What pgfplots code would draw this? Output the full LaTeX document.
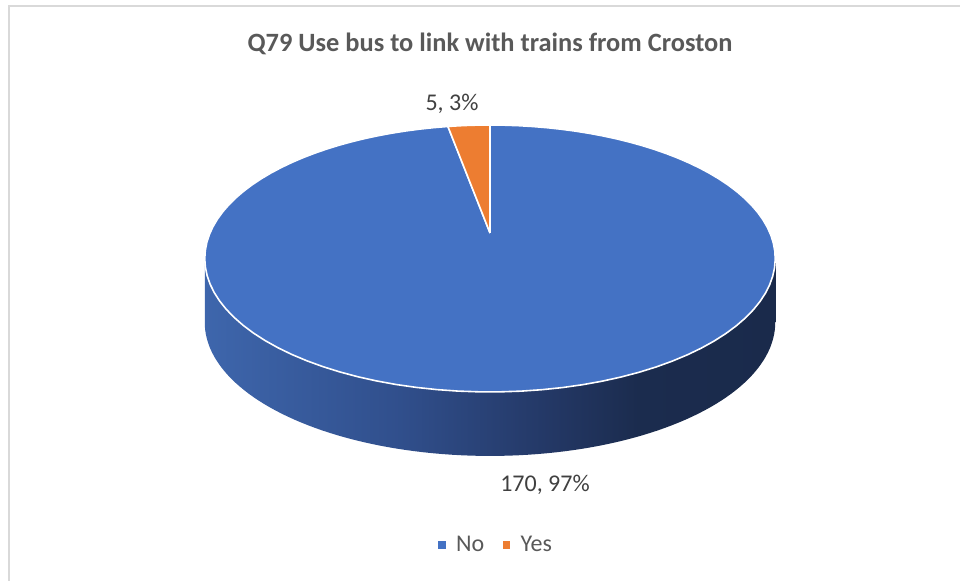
\documentclass[border=0pt]{standalone}
\usepackage{fontspec}
\setmainfont{Carlito}
\usepackage{pgfplots}
\usepackage{pgfplotstable}
\pgfplotsset{compat=1.18}
\definecolor{pieblue}{RGB}{68,114,196}
\definecolor{pieorange}{RGB}{237,125,49}
\definecolor{titlegray}{RGB}{89,89,89}
\definecolor{labelgray}{RGB}{64,64,64}
\definecolor{bordergray}{RGB}{217,217,217}
\pgfdeclarehorizontalshading{sideshade}{100bp}{rgb(0bp)=(0.243,0.40,0.675); rgb(25bp)=(0.243,0.40,0.675); rgb(42bp)=(0.19,0.31,0.55); rgb(55bp)=(0.14,0.22,0.40); rgb(63bp)=(0.106,0.172,0.306); rgb(75bp)=(0.102,0.165,0.294); rgb(100bp)=(0.102,0.165,0.294)}

\pgfplotstableread{
label value
No 170
Yes 5
}\piedata

\begin{document}
\begin{tikzpicture}
\pgfplotstablegetelem{0}{value}\of\piedata \let\vNo\pgfplotsretval
\pgfplotstablegetelem{1}{value}\of\piedata \let\vYes\pgfplotsretval
\pgfmathsetmacro{\aYes}{90+360*\vYes/(\vNo+\vYes)}
\begin{axis}[
  width=480pt, height=290.5pt, scale only axis, hide axis,
  xmin=0, xmax=960, ymin=0, ymax=581, clip=false,
  declare function={
    px(\q)=490+280*cos(\q)/(1+0.191*sin(\q));
    py(\q)=348+128.6*sin(\q)/(1+0.191*sin(\q));
    th(\t,\a,\b)=\a+(\b-\a)*min(max(\t,0),100)/100;
    rr(\t)=ifthenelse(\t<0,0,ifthenelse(\t>100,0,1));
    sth(\t)=ifthenelse(\t<100.5,191.01+157.98*\t/100,348.99-157.98*(\t-101)/100);
    sdy(\t)=ifthenelse(\t<100.5,0,64);
  },
  legend style={at={(0.518,0.062)}, anchor=center, draw=none, fill=none,
    legend columns=2, font=\fontsize{12}{14}\selectfont, text=titlegray,
    /tikz/every odd column/.append style={column sep=3.5pt},
    /tikz/every even column/.append style={column sep=7.5pt}},
]
% chart border (left and top)
\draw[bordergray, line width=1pt] (axis cs:9,0) -- (axis cs:9,575) -- (axis cs:960,575);
% side of the pie
\addplot[forget plot, mark=none, draw=none, shade, shading=sideshade, samples at={0,1,...,201}]
  ({px(sth(x))},{py(sth(x))-sdy(x)});
% No slice
\addplot[forget plot, mark=none, fill=pieblue, draw=white, line width=0.8pt, line join=round, samples at={-1,0,1,...,101}]
  ({490+rr(x)*(px(th(x,\aYes,450))-490)},{348+rr(x)*(py(th(x,\aYes,450))-348)});
% Yes slice
\addplot[forget plot, mark=none, fill=pieorange, draw=white, line width=0.8pt, line join=round, samples at={-1,0,1,...,101}]
  ({490+rr(x)*(px(th(x,90,\aYes))-490)},{348+rr(x)*(py(th(x,90,\aYes))-348)});
\addlegendimage{only marks, mark=square*, mark size=1.6pt, pieblue, draw=pieblue}
\addlegendentry{No}
\addlegendimage{only marks, mark=square*, mark size=1.6pt, pieorange, draw=pieorange}
\addlegendentry{Yes}
% title and data labels
\node[anchor=base, text=titlegray, font=\fontsize{13.2}{16}\selectfont\bfseries] at (axis cs:490,529) {Q79 Use bus to link with trains from Croston};
\node[anchor=center, text=labelgray, font=\fontsize{12}{14}\selectfont] at (axis cs:452,477) {5, 3\%};
\node[anchor=center, text=labelgray, font=\fontsize{12}{14}\selectfont] at (axis cs:545,96) {170, 97\%};
\end{axis}
\pgfresetboundingbox
\path (current axis.south west) rectangle (current axis.north east);
\end{tikzpicture}
\end{document}
